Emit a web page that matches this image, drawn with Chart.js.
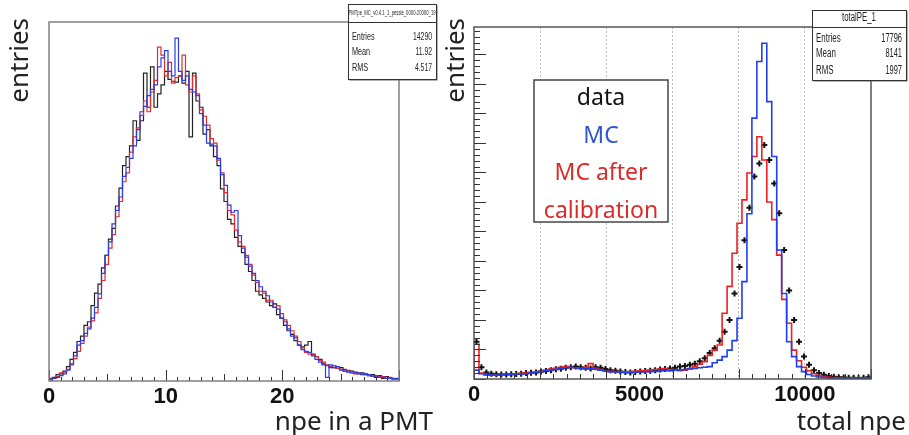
<!DOCTYPE html>
<html>
<head>
<meta charset="utf-8">
<script src="https://cdn.jsdelivr.net/npm/chart.js@4.4.1/dist/chart.umd.min.js"></script>
<style>
html, body { margin: 0; padding: 0; background: #fff; }
#wrap { position: relative; width: 909px; height: 435px; overflow: hidden; }
#wrap canvas { position: absolute; left: 0; top: 0; }
</style>
</head>
<body>
<div id="wrap">
  <canvas id="npePMT" width="909" height="435"></canvas>
  <canvas id="totalNpe" width="909" height="435"></canvas>
</div>
<script>
// npe in a PMT: 100 bins of 0.3 from 0 to 30
const npeBinWidth = 0.3;
const npeLabels = [0, 10, 20];
const npeData = [
  2, 3, 4, 7, 8, 11, 16, 24, 32, 44,
  50, 62, 66, 84, 98, 108, 126, 140, 158, 170,
  195, 215, 240, 250, 262, 290, 268, 290, 343, 305,
  350, 305, 320, 330, 345, 336, 334, 333, 340, 332,
  345, 272, 343, 312, 305, 275, 280, 262, 250, 240,
  214, 200, 180, 175, 160, 150, 143, 130, 122, 112,
  100, 96, 92, 88, 84, 86, 74, 70, 62, 56,
  52, 45, 40, 38, 40, 44, 30, 27, 24, 19,
  17, 15, 17, 14, 15, 11, 12, 11, 10, 8,
  9, 8, 6, 7, 4, 6, 3, 5, 3, 2
];
const npeMC = [
  1, 1, 3, 4, 6, 8, 12, 19, 28, 40,
  45, 53, 58, 70, 82, 97, 120, 140, 155, 175,
  190, 205, 228, 238, 248, 262, 280, 300, 306, 318,
  325, 330, 350, 360, 368, 345, 340, 382, 345, 335,
  340, 325, 322, 318, 298, 285, 265, 264, 262, 248,
  230, 218, 196, 188, 190, 162, 148, 138, 128, 120,
  112, 105, 100, 95, 88, 82, 80, 70, 66, 58,
  50, 48, 40, 35, 33, 32, 28, 24, 21, 18,
  4, 18, 15, 16, 12, 13, 10, 9, 9, 9,
  7, 7, 7, 5, 6, 4, 4, 3, 3, 3
];
const npeMCcal = [
  0, 2, 3, 5, 9, 10, 13, 18, 25, 33,
  42, 50, 60, 67, 76, 92, 112, 130, 148, 163,
  183, 200, 222, 232, 255, 272, 282, 296, 312, 300,
  322, 335, 372, 363, 340, 355, 332, 338, 340, 363,
  330, 322, 340, 320, 302, 295, 285, 270, 265, 246,
  232, 210, 190, 185, 168, 155, 150, 140, 130, 118,
  110, 100, 98, 90, 90, 82, 84, 75, 68, 62,
  56, 50, 44, 37, 32, 30, 29, 27, 23, 21,
  18, 16, 15, 14, 13, 12, 11, 10, 8, 9,
  8, 7, 6, 6, 5, 5, 5, 3, 4, 2
];

// total npe: 80 bins of 150 from 0 to 12000
const peBinWidth = 150;
const peLabels = [0, 5000, 10000];
const peData = [
  126, 40, 22, 18, 16, 15, 15, 16, 17, 18,
  20, 21, 22, 25, 27, 30, 33, 35, 38, 40,
  42, 40, 38, 36, 40, 38, 34, 30, 28, 25,
  24, 22, 24, 25, 27, 28, 30, 32, 34, 36,
  38, 42, 44, 48, 52, 60, 70, 88, 104, 130,
  160, 200, 290, 380, 470, 580, 686, 730, 793, 742,
  663, 562, 437, 300, 200, 126, 76, 48, 30, 20,
  14, 10, 8, 6, 5, 4, 4, 3, 4, 6
];
const peMC = [
  15, 30, 18, 14, 13, 13, 14, 15, 15, 16,
  17, 18, 20, 22, 25, 28, 30, 33, 36, 38,
  40, 38, 36, 34, 35, 33, 30, 27, 25, 24,
  23, 22, 22, 23, 24, 24, 25, 26, 27, 28,
  28, 30, 31, 32, 34, 36, 38, 40, 42, 55,
  64, 76, 98, 130, 206, 330, 560, 884, 1076, 1138,
  940, 754, 437, 290, 126, 76, 42, 25, 15, 10,
  7, 5, 4, 3, 3, 2, 2, 2, 2, 2
];
const peMCcal = [
  12, 118, 20, 16, 14, 14, 15, 16, 17, 18,
  19, 20, 22, 24, 26, 30, 34, 36, 40, 42,
  40, 38, 36, 40, 52, 36, 32, 28, 26, 25,
  24, 24, 25, 26, 28, 29, 30, 32, 34, 35,
  32, 30, 28, 30, 35, 42, 50, 59, 80, 98,
  115, 223, 314, 426, 528, 607, 698, 754, 821, 742,
  600, 540, 420, 270, 189, 98, 62, 40, 28, 18,
  12, 8, 6, 5, 4, 3, 3, 3, 3, 3
];

const legendItems = [
  ['data', '#111111'],
  ['MC', '#2f55d0'],
  ['MC after', '#d82c2c'],
  ['calibration', '#d82c2c']
];

// histogram outline: one point per bin edge, drawn as steps
function histPoints(values, width) {
  const pts = values.map((v, i) => ({ x: i * width, y: v }));
  pts.push({ x: values.length * width, y: values[values.length - 1] });
  return pts;
}

function centerPoints(values, width) {
  return values.map((v, i) => ({ x: (i + 0.5) * width, y: v }));
}

function histSet(values, width, color, lw) {
  return {
    data: histPoints(values, width),
    borderColor: color,
    borderWidth: lw,
    stepped: 'after',
    pointRadius: 0,
    fill: false
  };
}

function narrowText(ctx, text, x, y, size, align, sx) {
  ctx.save();
  ctx.font = size + 'px "Liberation Sans", Arial, sans-serif';
  ctx.textAlign = align;
  ctx.textBaseline = 'middle';
  ctx.translate(x, y);
  ctx.scale(sx, 1);
  ctx.fillText(text, 0, 0);
  ctx.restore();
}

function drawStatBox(ctx, b) {
  ctx.save();
  ctx.fillStyle = '#666';
  ctx.fillRect(b.x + 1.5, b.y + 1.5, b.w, b.h);
  ctx.fillStyle = '#fff';
  ctx.fillRect(b.x, b.y, b.w, b.h);
  ctx.strokeStyle = '#333';
  ctx.lineWidth = 1;
  ctx.strokeRect(b.x + 0.5, b.y + 0.5, b.w, b.h);
  ctx.beginPath();
  ctx.moveTo(b.x, b.sepY + 0.5);
  ctx.lineTo(b.x + b.w, b.sepY + 0.5);
  ctx.stroke();
  ctx.fillStyle = '#222';
  narrowText(ctx, b.title, b.x + b.w / 2, b.titleY, b.titleSize, 'center', b.titleScale);
  b.rows.forEach(r => {
    narrowText(ctx, r[0], b.x + 4, r[2], b.size, 'left', 0.66);
    narrowText(ctx, r[1], b.x + b.w - 4, r[2], b.size, 'right', 0.62);
  });
  ctx.restore();
}

function drawTicks(ctx, scale, area, list, vertical) {
  ctx.beginPath();
  list.forEach(t => {
    for (let v = scale.min; v <= scale.max + 1e-9; v += t.step) {
      const p = Math.round(scale.getPixelForValue(v)) + 0.5;
      if (vertical) {
        ctx.moveTo(area.left, p);
        ctx.lineTo(area.left + t.len, p);
      } else {
        ctx.moveTo(p, area.bottom);
        ctx.lineTo(p, area.bottom - t.len);
      }
    }
  });
  ctx.stroke();
}

const rootStyle = {
  id: 'rootStyle',
  afterDatasetsDraw(chart, args, o) {
    const ctx = chart.ctx;
    const a = chart.chartArea;
    ctx.save();
    ctx.strokeStyle = '#333';
    ctx.lineWidth = 1;
    if (o.xTicks) drawTicks(ctx, chart.scales.x, a, o.xTicks, false);
    if (o.yTicks) drawTicks(ctx, chart.scales.y, a, o.yTicks, true);
    ctx.strokeStyle = o.frameColor;
    ctx.lineWidth = 1.5;
    ctx.strokeRect(a.left, a.top, a.right - a.left, a.bottom - a.top);
    ctx.restore();
  },
  afterDraw(chart, args, o) {
    const ctx = chart.ctx;
    ctx.save();
    if (o.legend) {
      const L = o.legend;
      ctx.fillStyle = '#fff';
      ctx.fillRect(L.x, L.y, L.w, L.h);
      ctx.strokeStyle = '#444';
      ctx.lineWidth = 1.5;
      ctx.strokeRect(L.x, L.y, L.w, L.h);
      ctx.font = '23px "Noto Sans", sans-serif';
      ctx.textAlign = 'center';
      ctx.textBaseline = 'alphabetic';
      legendItems.forEach((it, i) => {
        ctx.fillStyle = it[1];
        ctx.fillText(it[0], L.x + L.w / 2, L.y + 25 + i * 37.5);
      });
    }
    drawStatBox(ctx, o.stats);
    ctx.fillStyle = '#222';
    ctx.font = '26px "Noto Sans", sans-serif';
    ctx.textAlign = 'right';
    ctx.textBaseline = 'alphabetic';
    ctx.fillText(o.xTitle, o.xTitleX, 430);
    ctx.save();
    ctx.translate(o.yTitleX, 18);
    ctx.rotate(-Math.PI / 2);
    ctx.textAlign = 'right';
    ctx.textBaseline = 'middle';
    ctx.fillText('entries', 0, 0);
    ctx.restore();
    ctx.restore();
  }
};

const tickFont = { family: '"Liberation Sans", Arial, sans-serif', size: 22, weight: 'bold' };

new Chart(document.getElementById('npePMT'), {
  type: 'line',
  data: {
    datasets: [
      histSet(npeMC, npeBinWidth, '#2a3de8', 1.2),
      histSet(npeMCcal, npeBinWidth, '#e82a2a', 1.2),
      histSet(npeData, npeBinWidth, '#222222', 1.2)
    ]
  },
  options: {
    responsive: false,
    animation: false,
    layout: { padding: { left: 49, right: 510, top: 22, bottom: 0 } },
    plugins: {
      legend: { display: false },
      tooltip: { enabled: false },
      rootStyle: {
        frameColor: '#808080',
        xTicks: [{ step: 1, len: 4 }, { step: 5, len: 7 }, { step: 10, len: 11 }],
        stats: {
          x: 348, y: 4, w: 88, h: 75, sepY: 22,
          title: 'PMTpe_MC_v0.4.1_1_pessle_0000-20000_19', titleY: 13, titleSize: 7, titleScale: 0.6,
          size: 11,
          rows: [['Entries', '14290', 37], ['Mean', '11.92', 52], ['RMS', '4.517', 68]]
        },
        xTitle: 'npe in a PMT', xTitleX: 433, yTitleX: 21
      }
    },
    scales: {
      x: {
        type: 'linear', min: 0, max: 30,
        afterFit: s => { s.height = 54; },
        grid: { display: false, drawTicks: false },
        border: { display: false },
        ticks: {
          stepSize: 10, autoSkip: false, maxRotation: 0, padding: 3,
          color: '#111', font: tickFont,
          callback: v => npeLabels.includes(v) ? v : ''
        }
      },
      y: { type: 'linear', min: 0, max: 400, display: false }
    }
  },
  plugins: [rootStyle]
});

new Chart(document.getElementById('totalNpe'), {
  type: 'line',
  data: {
    datasets: [
      histSet(peMC, peBinWidth, '#1f3ff0', 1.6),
      histSet(peMCcal, peBinWidth, '#ee2020', 1.6),
      {
        data: centerPoints(peData, peBinWidth),
        showLine: false,
        pointStyle: 'cross',
        pointRadius: 3,
        pointBorderWidth: 2,
        pointBorderColor: '#111',
        borderColor: '#111'
      }
    ]
  },
  options: {
    responsive: false,
    animation: false,
    layout: { padding: { left: 474, right: 38, top: 27, bottom: 0 } },
    plugins: {
      legend: { display: false },
      tooltip: { enabled: false },
      rootStyle: {
        frameColor: '#555',
        xTicks: [{ step: 400, len: 5 }, { step: 2000, len: 10 }],
        yTicks: [{ step: 20, len: 6 }, { step: 100, len: 12 }],
        legend: { x: 534, y: 80, w: 134, h: 142 },
        stats: {
          x: 812, y: 10, w: 94, h: 70, sepY: 27,
          title: 'totalPE_1', titleY: 18, titleSize: 12, titleScale: 0.65,
          size: 12,
          rows: [['Entries', '17796', 39], ['Mean', '8141', 54], ['RMS', '1997', 71]]
        },
        xTitle: 'total npe', xTitleX: 906, yTitleX: 457
      }
    },
    scales: {
      x: {
        type: 'linear', min: 0, max: 12000,
        afterFit: s => { s.height = 56; },
        grid: {
          drawTicks: false, lineWidth: 1,
          color: c => (c.tick && c.tick.value % 2000 === 0 && c.tick.value > 0 && c.tick.value < 12000) ? '#b8b8b8' : 'rgba(0,0,0,0)'
        },
        border: { display: false, dash: [2, 2] },
        ticks: {
          stepSize: 1000, autoSkip: false, maxRotation: 0, padding: 3,
          color: '#111', font: tickFont,
          callback: v => peLabels.includes(v) ? v : ''
        }
      },
      y: {
        type: 'linear', min: 0, max: 1193,
        afterFit: s => { s.width = 0; },
        grid: {
          drawTicks: false, lineWidth: 1,
          color: c => (c.tick && c.tick.value % 100 === 0 && c.tick.value > 0) ? '#a8a8a8' : 'rgba(0,0,0,0)'
        },
        border: { display: false },
        ticks: { stepSize: 100, display: false }
      }
    }
  },
  plugins: [rootStyle]
});
</script>
</body>
</html>
